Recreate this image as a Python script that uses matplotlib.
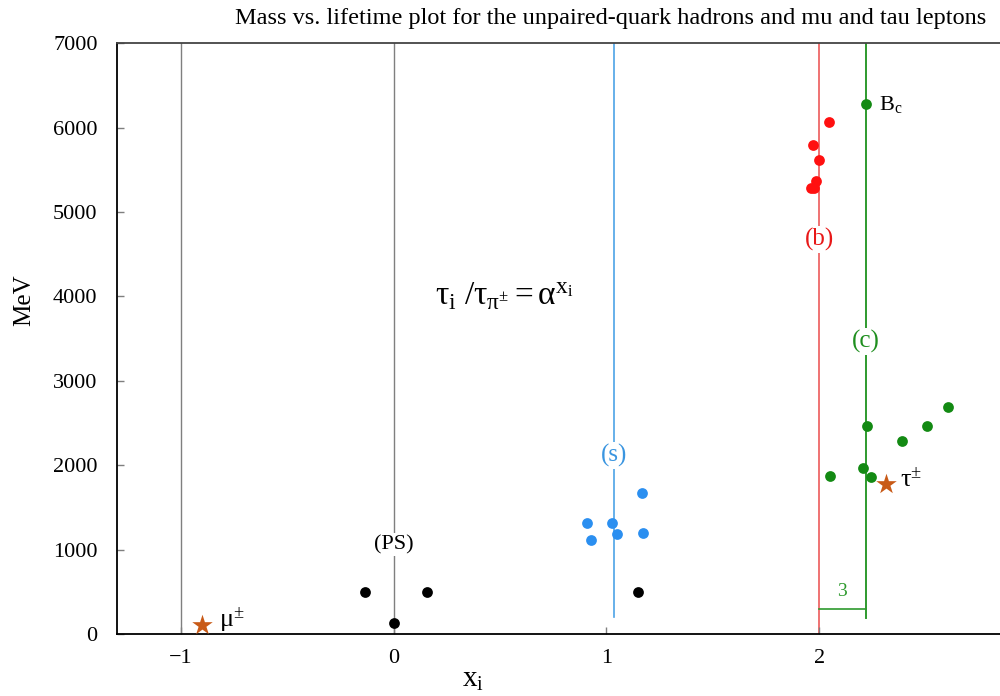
import matplotlib
matplotlib.use("Agg")
import matplotlib.pyplot as plt

plt.rcParams['font.family'] = ['Liberation Serif', 'DejaVu Serif']
plt.rcParams['mathtext.fontset'] = 'custom'
plt.rcParams['mathtext.rm'] = 'Liberation Serif'
plt.rcParams['mathtext.it'] = 'Liberation Serif:italic'
plt.rcParams['mathtext.bf'] = 'Liberation Serif:bold'

# Data (x_i exponent, mass in MeV)
ps_x = [-0.136, 0.155, 0.0, 1.15]
ps_y = [494, 494, 135, 498]

s_x = [1.167, 0.911, 1.026, 0.930, 1.049, 1.173]
s_y = [1672, 1315, 1315, 1116, 1189, 1197]

b_x = [2.044, 1.970, 1.997, 1.986, 1.962, 1.974]
b_y = [6071, 5795, 5620, 5367, 5279, 5280]

c_x = [2.221, 2.226, 2.606, 2.507, 2.389, 2.204, 2.053, 2.245]
c_y = [6275, 2468, 2695, 2470, 2286, 1968, 1870, 1865]

lep_x = [-0.90, 2.312]
lep_y = [106, 1777]
lep_labels = [r'μ$^{\pm}$', r'τ$^{\pm}$']

line_x = {'gray1': -1.0, 'gray0': 0.0, 's': 1.035, 'b': 2.0, 'c': 2.218}

fig = plt.figure(figsize=(10, 6.96), dpi=100)
ax = fig.add_axes([0.117, 0.089, 0.883, 0.849])
ax.set_xlim(-1.30, 2.85)
ax.set_ylim(0, 7000)

gray = '#7f7f7f'
blue_l = '#4da3e6'
red_l = '#ec5a5a'
green_l = '#2e9a2e'

ax.axvline(line_x['gray1'], color=gray, lw=1.0, zorder=1)
ax.axvline(line_x['gray0'], color=gray, lw=1.0, zorder=1)
ax.plot([line_x['s'], line_x['s']], [200, 7000], color=blue_l, lw=1.2, zorder=1)
ax.axvline(line_x['b'], color=red_l, lw=1.2, zorder=1)
ax.plot([line_x['c'], line_x['c']], [190, 7000], color=green_l, lw=1.4, zorder=1)
ax.plot([line_x['b'], line_x['c']], [296, 296], color=green_l, lw=1.2, zorder=1)
ax.text((line_x['b'] + line_x['c']) / 2, 500, '3', color=green_l, fontsize=14,
        ha='center', va='center')

ms = 60
ax.scatter(ps_x, ps_y, s=ms, color='black', zorder=3, linewidths=0)
ax.scatter(s_x, s_y, s=ms, color='#2b8ff0', zorder=3, linewidths=0)
ax.scatter(b_x, b_y, s=ms, color='#ff1010', zorder=3, linewidths=0)
ax.scatter(c_x, c_y, s=ms, color='#138a13', zorder=3, linewidths=0)
ax.scatter(lep_x, lep_y, s=240, marker='*', color='#c85a17', zorder=3, linewidths=0)

ax.text(lep_x[0] + 0.08, lep_y[0] + 70, lep_labels[0], fontsize=19, ha='left', va='center')
ax.text(lep_x[1] + 0.07, lep_y[1] + 50, lep_labels[1], fontsize=19, ha='left', va='center')
ax.text(c_x[0] + 0.06, c_y[0], r'B$_\mathrm{c}$', fontsize=16, ha='left', va='center')

bb = dict(facecolor='white', edgecolor='none', pad=1.5)
ax.text(line_x['b'], 4670, '(b)', color='#e81818', fontsize=18, ha='center', va='center', bbox=bb, zorder=2)
ax.text(line_x['c'], 3470, '(c)', color='#1f8f1f', fontsize=18, ha='center', va='center', bbox=bb, zorder=2)
ax.text(line_x['s'], 2120, '(s)', color='#3a95e0', fontsize=18, ha='center', va='center', bbox=bb, zorder=2)
ax.text(line_x['gray0'], 1060, '(PS)', color='black', fontsize=16, ha='center', va='center', bbox=bb, zorder=2)

ax.text(0.52, 4000, r'$\mathrm{τ}_\mathrm{i}\ /\mathrm{τ}_{\mathrm{π}^{\pm}} = \mathrm{α}^{\mathrm{x_i}}$',
        fontsize=24, ha='center', va='center')

ax.set_xticks([-1, 0, 1, 2])
ax.set_xticklabels(['\u22121', '0', '1', '2'])
ax.set_yticks(range(0, 7001, 1000))
ax.tick_params(axis='both', direction='in', labelsize=16, length=5, width=1, color=gray)
ax.tick_params(axis='x', pad=11)
ax.tick_params(axis='y', pad=14)

ax.spines['right'].set_visible(False)
for s in ['left', 'bottom', 'top']:
    ax.spines[s].set_linewidth(1.3)
ax.spines['top'].set_color('#444444')

ax.set_xlabel(r'$\mathrm{x_i}$', fontsize=21)
ax.xaxis.set_label_coords(0.403, -0.055)
ax.set_ylabel('MeV', fontsize=18)
ax.yaxis.set_label_coords(-0.093, 0.565)

fig.text(0.611, 0.973, 'Mass vs. lifetime plot for the unpaired-quark hadrons and mu and tau leptons',
         fontsize=17.5, ha='center', va='center')

fig.savefig('out.png', dpi=100)
